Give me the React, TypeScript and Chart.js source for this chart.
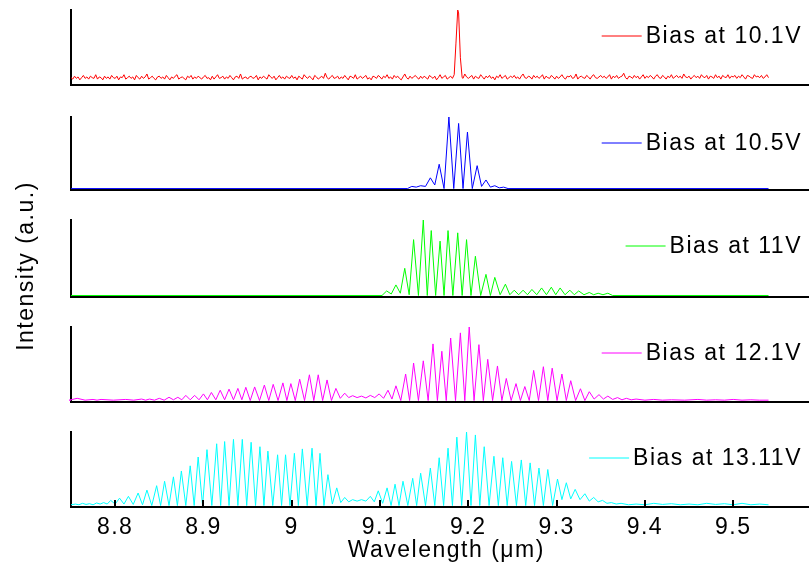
import React, { useEffect, useRef } from 'react';
import { Chart, registerables } from 'chart.js';

Chart.register(...registerables);

const FONT = '"Liberation Sans", Arial, sans-serif';

// ---------- axis / labels ----------
const X_MIN = 8.75;
const X_MAX = 9.6;
const Y_MIN = -0.02;
const Y_MAX = 1.0;
const DATA_START = 8.75;
const DATA_END = 9.54;
const xTicks = [8.8, 8.9, 9.0, 9.1, 9.2, 9.3, 9.4, 9.5];
const xTickLabels = ['8.8', '8.9', '9', '9.1', '9.2', '9.3', '9.4', '9.5'];
const xTitle = 'Wavelength (\u03bcm)';
const yTitle = 'Intensity (a.u.)';
const biasLabels = ['Bias at 10.1V', 'Bias at 10.5V', 'Bias at 11V', 'Bias at 12.1V', 'Bias at 13.11V'];
const colors = ['#ff0000', '#0000ff', '#00ff00', '#ff00ff', '#00ffff'];

// ---------- 10.1 V : noise floor + single mode ----------
const redNoiseStart = 8.75;
const redNoiseStep = 0.002;
const redNoise = [
  0.08, 0.06, 0.10, 0.07, 0.09, 0.05, 0.08, 0.11, 0.07, 0.09, 0.06, 0.10, 0.08, 0.07, 0.12, 0.06, 0.09, 0.08, 0.05, 0.10, 0.07, 0.09, 0.06, 0.11, 0.08,
  0.07, 0.10, 0.05, 0.09, 0.08, 0.12, 0.06, 0.08, 0.10, 0.07, 0.09, 0.05, 0.11, 0.08, 0.06, 0.10, 0.07, 0.09, 0.13, 0.06, 0.08, 0.10, 0.07, 0.05, 0.09,
  0.10, 0.07, 0.09, 0.06, 0.11, 0.08, 0.05, 0.09, 0.07, 0.10, 0.12, 0.06, 0.08, 0.09, 0.07, 0.05, 0.10, 0.08, 0.11, 0.06, 0.09, 0.07, 0.10, 0.08, 0.06,
  0.09, 0.11, 0.07, 0.08, 0.05, 0.10, 0.06, 0.09, 0.12, 0.07, 0.08, 0.10, 0.06, 0.09, 0.07, 0.11, 0.08, 0.05, 0.09, 0.10, 0.07, 0.13, 0.06, 0.08, 0.09,
  0.06, 0.09, 0.10, 0.07, 0.08, 0.11, 0.05, 0.09, 0.07, 0.10, 0.08, 0.06, 0.12, 0.09, 0.07, 0.10, 0.05, 0.08, 0.11, 0.07, 0.09, 0.06, 0.10, 0.08, 0.07,
  0.11, 0.07, 0.09, 0.05, 0.10, 0.08, 0.06, 0.12, 0.09, 0.07, 0.10, 0.08, 0.05, 0.11, 0.09, 0.06, 0.08, 0.10, 0.07, 0.14, 0.08, 0.06, 0.09, 0.11, 0.07,
  0.08, 0.10, 0.06, 0.09, 0.07, 0.11, 0.08, 0.05, 0.10, 0.09, 0.07, 0.12, 0.06, 0.08, 0.10, 0.07, 0.09, 0.11, 0.06, 0.08, 0.05, 0.10, 0.09, 0.07, 0.11,
  0.09, 0.06, 0.10, 0.08, 0.12, 0.07, 0.09, 0.06, 0.11, 0.08, 0.10, 0.07, 0.05, 0.09, 0.13, 0.08, 0.06, 0.10, 0.07, 0.09, 0.11, 0.08, 0.06, 0.10, 0.07,
  0.10, 0.08, 0.06, 0.11, 0.09, 0.07, 0.10, 0.05, 0.08, 0.12, 0.07, 0.09, 0.11, 0.06, 0.08, 0.10, 0.07, 0.09, 0.05, 0.11, 0.08, 0.10, 0.07, 0.13, 0.09,
  0.07, 0.09, 0.11, 0.06, 0.10, 0.08, 0.07, 0.12, 0.09, 0.06, 0.10, 0.08, 0.11, 0.07, 0.09, 0.05, 0.10, 0.08, 0.12, 0.07, 0.09, 0.11, 0.06, 0.08, 0.10,
  0.08, 0.11, 0.07, 0.09, 0.06, 0.10, 0.13, 0.08, 0.07, 0.10, 0.09, 0.06, 0.11, 0.08, 0.10, 0.07, 0.09, 0.12, 0.06, 0.10, 0.08, 0.07, 0.11, 0.09, 0.06,
  0.10, 0.07, 0.09, 0.12, 0.08, 0.06, 0.10, 0.09, 0.11, 0.07, 0.08, 0.13, 0.06, 0.09, 0.10, 0.08, 0.07, 0.11, 0.09, 0.06, 0.10, 0.12, 0.08, 0.07, 0.09,
  0.11, 0.08, 0.10, 0.07, 0.09, 0.12, 0.06, 0.10, 0.08, 0.11, 0.07, 0.09, 0.10, 0.14, 0.08, 0.06, 0.10, 0.09, 0.07, 0.11, 0.08, 0.10, 0.06, 0.09, 0.12,
  0.07, 0.10, 0.08, 0.11, 0.09, 0.06, 0.10, 0.12, 0.08, 0.07, 0.11, 0.09, 0.06, 0.10, 0.08, 0.12, 0.07, 0.09, 0.11, 0.08, 0.10, 0.07, 0.13, 0.09, 0.08,
  0.10, 0.06, 0.09, 0.11, 0.08, 0.10, 0.07, 0.12, 0.09, 0.08, 0.11, 0.06, 0.10, 0.09, 0.07, 0.12, 0.08, 0.10, 0.06, 0.11, 0.09, 0.08, 0.12, 0.07, 0.10,
  0.09, 0.11, 0.07, 0.10, 0.08, 0.12, 0.09, 0.06, 0.11, 0.10, 0.08, 0.07, 0.12, 0.09, 0.10, 0.08, 0.11, 0.07, 0.09, 0.12, 0.08, 0.10, 0.11, 0.09, 0.12,
];
const redPeakX = [9.184, 9.186, 9.188, 9.189, 9.191, 9.193];
const redPeakY = [0.12, 0.55, 1.0, 0.96, 0.35, 0.08];

// ---------- 10.5 V ----------
const bluePeakX = [9.136, 9.146, 9.157, 9.167, 9.178, 9.189, 9.199, 9.210, 9.220, 9.230, 9.240];
const bluePeakY = [0.03, 0.04, 0.15, 0.34, 1.0, 0.91, 0.79, 0.32, 0.12, 0.04, 0.02];
const blueValleyY = [0.02, 0.03, 0.05, 0, 0, 0, 0, 0.03, 0.02, 0.01];

// ---------- 11 V ----------
const greenPeakX = [9.1075, 9.118, 9.128, 9.138, 9.149, 9.158, 9.168, 9.177, 9.188, 9.198, 9.208, 9.220, 9.230,
  9.242, 9.252, 9.262, 9.272, 9.283, 9.294, 9.304, 9.315, 9.325, 9.337, 9.347, 9.358];
const greenPeakY = [0.06, 0.14, 0.36, 0.74, 1.0, 0.86, 0.72, 0.86, 0.83, 0.74, 0.52, 0.28, 0.24,
  0.15, 0.07, 0.07, 0.08, 0.10, 0.11, 0.10, 0.07, 0.06, 0.04, 0.03, 0.03];
const greenValleyY = [0.02, 0.03, 0.01, 0, 0, 0, 0, 0, 0, 0, 0, 0, 0.01, 0.01, 0.01, 0.01, 0.01, 0.01,
  0.01, 0.01, 0.01, 0.01, 0.01, 0.01];

// ---------- 12.1 V ----------
const magentaPeakX = [8.757, 8.775, 8.784, 8.812, 8.830, 8.839, 8.850,
  8.861, 8.871, 8.880, 8.890, 8.900, 8.909, 8.919, 8.929, 8.939, 8.948,
  8.958, 8.969, 8.979, 8.990, 8.999, 9.009, 9.020, 9.030, 9.040, 9.050,
  9.060, 9.069, 9.079, 9.089, 9.099, 9.109, 9.118, 9.129, 9.138, 9.149,
  9.160, 9.170, 9.180, 9.191, 9.201, 9.212, 9.222, 9.233, 9.243, 9.254,
  9.264, 9.274, 9.285, 9.295, 9.306, 9.316, 9.327, 9.337, 9.348, 9.358,
  9.369, 9.379, 9.390,
  9.410, 9.430, 9.460, 9.480, 9.500, 9.520];
const magentaPeakY = [0.03, 0.015, 0.015, 0.015, 0.02, 0.02, 0.03,
  0.044, 0.044, 0.07, 0.07, 0.09, 0.11, 0.14, 0.155, 0.165, 0.18,
  0.185, 0.21, 0.22, 0.24, 0.23, 0.29, 0.35, 0.35, 0.28, 0.165,
  0.10, 0.066, 0.06, 0.07, 0.09, 0.14, 0.20, 0.36, 0.51, 0.54,
  0.77, 0.67, 0.85, 0.92, 1.0, 0.76, 0.56, 0.47, 0.30, 0.23,
  0.19, 0.41, 0.46, 0.44, 0.36, 0.27, 0.16, 0.12, 0.08, 0.06,
  0.04, 0.03, 0.02,
  0.015, 0.01, 0.015, 0.01, 0.015, 0.01];
const magentaValleyY = [0.005, 0.005, 0.005, 0.005, 0.005, 0.005, 0.005,
  0.01, 0.01, 0.01, 0.01, 0.01, 0.01, 0.01, 0.01, 0.01,
  0, 0, 0, 0, 0, 0, 0, 0, 0, 0,
  0.03, 0.04, 0.04, 0.035, 0.04, 0.03, 0.02,
  0, 0, 0, 0, 0, 0, 0, 0, 0, 0, 0, 0, 0, 0, 0, 0, 0, 0, 0, 0, 0,
  0.02, 0.02, 0.015, 0.01, 0.01,
  0.005, 0.005, 0.005, 0.005, 0.005, 0.005];

// ---------- 13.11 V ----------
const cyanPeakX = [8.755, 8.763, 8.771, 8.779, 8.787,
  8.795, 8.805, 8.815, 8.826, 8.836, 8.847, 8.856, 8.866, 8.875, 8.885,
  8.894, 8.904, 8.915, 8.924, 8.934, 8.944, 8.954, 8.964, 8.973, 8.984,
  8.993, 9.003, 9.012, 9.023, 9.032, 9.041, 9.051, 9.060, 9.069, 9.079,
  9.089, 9.098, 9.108, 9.117, 9.126, 9.137, 9.146, 9.157, 9.167, 9.177,
  9.187, 9.198, 9.208, 9.218, 9.229, 9.239, 9.249, 9.260, 9.270, 9.280,
  9.290, 9.301, 9.311, 9.321, 9.332, 9.342, 9.352, 9.362, 9.373,
  9.390, 9.410, 9.430, 9.450, 9.470, 9.490, 9.510, 9.530];
const cyanPeakY = [0.02, 0.03, 0.025, 0.035, 0.04,
  0.07, 0.10, 0.125, 0.17, 0.21, 0.27, 0.33, 0.39, 0.47, 0.54,
  0.66, 0.76, 0.84, 0.87, 0.90, 0.90, 0.86, 0.80, 0.74, 0.69,
  0.69, 0.71, 0.77, 0.78, 0.71, 0.42, 0.24, 0.11, 0.08, 0.08,
  0.125, 0.20, 0.24, 0.29, 0.33, 0.37, 0.44, 0.51, 0.65, 0.78,
  0.93, 1.0, 0.96, 0.80, 0.67, 0.65, 0.60, 0.62, 0.58, 0.51,
  0.49, 0.36, 0.31, 0.22, 0.16, 0.11, 0.07, 0.04, 0.03,
  0.02, 0.03, 0.025, 0.02, 0.03, 0.025, 0.03, 0.02];
const cyanValleyY = [0.01, 0.015, 0.01, 0.02, 0.02,
  0.02, 0.02, 0.015, 0.01,
  0, 0, 0, 0, 0, 0, 0, 0, 0, 0, 0, 0, 0, 0, 0, 0, 0, 0, 0, 0, 0,
  0.02, 0.04, 0.05, 0.06, 0.06, 0.05, 0.03,
  0, 0, 0, 0, 0, 0, 0, 0, 0, 0, 0, 0, 0, 0, 0, 0, 0, 0, 0,
  0.08, 0.09, 0.08, 0.06, 0.05, 0.03, 0.02,
  0.01, 0.01, 0.015, 0.01, 0.01, 0.015, 0.01, 0.01];

// ---------- layout (pixels) ----------
const W = 809;
const H = 572;
const CANVAS_W = 830;
const PLOT_LEFT = 71;
const PLOT_RIGHT = 821.5;
const panelTop = [10, 117, 220, 327, 432];
const panelBottom = [85, 190, 297, 402, 507];
const PAD = 5;
const LEGEND_RIGHT = 802;

type Pt = { x: number; y: number };

function combSeries(px: number[], py: number[], vy: number[], floor: number): Pt[] {
  const pts: Pt[] = [{ x: DATA_START, y: floor }];
  const n = px.length;
  pts.push({ x: px[0] - (px[1] - px[0]) / 2, y: floor });
  for (let i = 0; i < n; i++) {
    pts.push({ x: px[i], y: py[i] });
    if (i < n - 1) pts.push({ x: (px[i] + px[i + 1]) / 2, y: vy[i] });
  }
  pts.push({ x: px[n - 1] + (px[n - 1] - px[n - 2]) / 2, y: floor });
  pts.push({ x: DATA_END, y: floor });
  return pts;
}

function redSeries(): Pt[] {
  const lo = redPeakX[0] - 0.001;
  const hi = redPeakX[redPeakX.length - 1] + 0.001;
  const pts: Pt[] = redNoise
    .map((y, i) => ({ x: redNoiseStart + i * redNoiseStep, y }))
    .filter((p) => (p.x < lo || p.x > hi) && p.x <= DATA_END);
  redPeakX.forEach((x, i) => pts.push({ x, y: redPeakY[i] }));
  pts.sort((a, b) => a.x - b.x);
  return pts;
}

const seriesList: Pt[][] = [
  redSeries(),
  combSeries(bluePeakX, bluePeakY, blueValleyY, 0),
  combSeries(greenPeakX, greenPeakY, greenValleyY, 0),
  combSeries(magentaPeakX, magentaPeakY, magentaValleyY, 0.005),
  combSeries(cyanPeakX, cyanPeakY, cyanValleyY, 0.01),
];

export default function App() {
  const refs = useRef<(HTMLCanvasElement | null)[]>([]);

  useEffect(() => {
    const charts: Chart[] = [];
    for (let i = 0; i < 5; i++) {
      const canvas = refs.current[i];
      if (!canvas) continue;
      const isLast = i === 4;
      const legendY = 26 + PAD;
      const label = biasLabels[i];
      const color = colors[i];
      const chart = new Chart(canvas, {
        type: 'line',
        data: {
          datasets: [
            {
              label,
              data: seriesList[i],
              borderColor: color,
              borderWidth: 1,
              pointRadius: 0,
              tension: 0,
              fill: false,
              clip: false as any,
            },
          ],
        },
        options: {
          animation: false,
          responsive: false,
          devicePixelRatio: 1,
          events: [],
          layout: {
            padding: { left: PLOT_LEFT, right: CANVAS_W - PLOT_RIGHT, top: PAD, bottom: isLast ? 0 : PAD },
          },
          plugins: {
            legend: { display: false },
            tooltip: { enabled: false },
            title: { display: false },
          },
          scales: {
            x: {
              type: 'linear',
              min: X_MIN,
              max: X_MAX,
              grid: { display: false, drawTicks: false },
              border: { display: true, color: '#000', width: 2 },
              afterBuildTicks: (s: any) => {
                s.ticks = xTicks.map((v) => ({ value: v }));
              },
              afterFit: (s: any) => {
                s.height = isLast ? 65 : 0;
              },
              ticks: {
                display: isLast,
                autoSkip: false,
                maxRotation: 0,
                padding: 9,
                color: '#000',
                font: { family: FONT, size: 23, lineHeight: 1 },
                callback: (_v: any, idx: number) => xTickLabels[idx],
              },
              title: {
                display: isLast,
                text: xTitle,
                color: '#000',
                font: { family: FONT, size: 23, lineHeight: 1 },
                padding: { top: 0, bottom: 9.5 },
              },
            },
            y: {
              type: 'linear',
              min: Y_MIN,
              max: Y_MAX,
              grid: { display: false, drawTicks: false },
              border: { display: true, color: '#000', width: 2 },
              ticks: { display: false },
              afterFit: (s: any) => {
                s.width = 0;
              },
            },
          },
        },
        plugins: [
          {
            id: 'spacing',
            beforeDraw(c: any) {
              c.ctx.letterSpacing = '1.5px';
            },
          },
          {
            id: 'panelDecor',
            afterDraw(c: any) {
              const ctx = c.ctx as CanvasRenderingContext2D;
              ctx.save();
              (ctx as any).letterSpacing = '1.5px';
              ctx.font = `23px ${FONT}`;
              ctx.textAlign = 'right';
              ctx.textBaseline = 'middle';
              ctx.fillStyle = '#000';
              const w = ctx.measureText(label).width;
              ctx.fillText(label, LEGEND_RIGHT, legendY + 1);
              const left = LEGEND_RIGHT - w;
              ctx.strokeStyle = color;
              ctx.lineWidth = 1;
              ctx.beginPath();
              ctx.moveTo(left - 44, legendY);
              ctx.lineTo(left - 4, legendY);
              ctx.stroke();
              if (isLast) {
                const xs = c.scales.x;
                const bottom = c.chartArea.bottom;
                ctx.strokeStyle = '#000';
                ctx.lineWidth = 2;
                ctx.beginPath();
                xTicks.forEach((v) => {
                  const px = Math.round(xs.getPixelForValue(v));
                  ctx.moveTo(px, bottom);
                  ctx.lineTo(px, bottom - 7);
                });
                ctx.stroke();
              }
              ctx.restore();
            },
          },
        ],
      } as any);
      charts.push(chart);
    }
    return () => charts.forEach((c) => c.destroy());
  }, []);

  return (
    <div
      style={{
        position: 'fixed',
        left: 0,
        top: 0,
        width: W,
        height: H,
        overflow: 'hidden',
        background: '#fff',
      }}
    >
      {panelTop.map((t, i) => {
        const top = t - PAD;
        const h = i === 4 ? H - top : panelBottom[i] - t + 2 * PAD;
        return (
          <canvas
            key={i}
            ref={(el) => {
              refs.current[i] = el;
            }}
            width={CANVAS_W}
            height={h}
            style={{ position: 'absolute', left: 0, top, width: CANVAS_W, height: h }}
          />
        );
      })}
      <div
        style={{
          position: 'absolute',
          left: 25 - 110,
          top: 266 - 14,
          width: 220,
          height: 28,
          lineHeight: '28px',
          textAlign: 'center',
          transform: 'rotate(-90deg)',
          fontFamily: FONT,
          fontSize: 23,
          letterSpacing: '1.5px',
          whiteSpace: 'nowrap',
          color: '#000',
        }}
      >
        {yTitle}
      </div>
    </div>
  );
}
